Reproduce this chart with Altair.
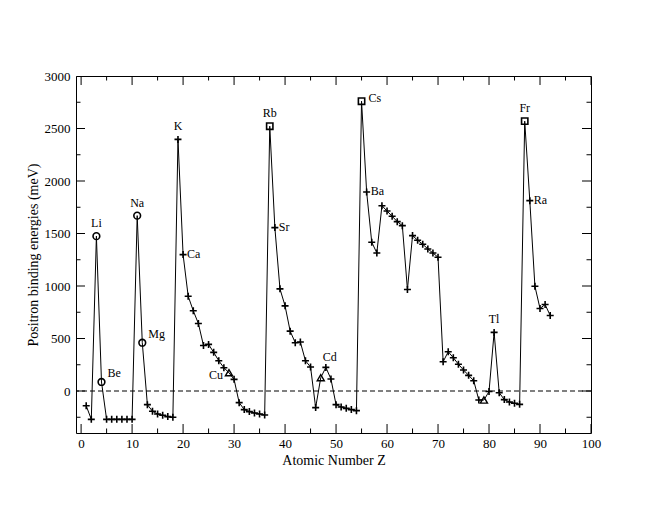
import altair as alt
import pandas as pd

# Atomic number Z and positron binding energies (meV)
Z = list(range(1, 93))
E = [-140, -270, 1475, 86, -270, -270, -270, -270, -270, -270,
     1670, 460, -130, -193, -219, -231, -244, -250, 2396, 1299,
     903, 764, 643, 434, 444, 368, 288, 222, 174, 111,
     -111, -177, -196, -209, -219, -228, 2522, 1556, 973, 811,
     570, 460, 466, 288, 228, -158, 127, 225, 114, -130,
     -152, -165, -177, -187, 2760, 1895, 1417, 1315, 1765, 1714,
     1664, 1613, 1575, 967, 1480, 1436, 1398, 1353, 1315, 1274,
     279, 374, 317, 255, 200, 149, 98, -86, -86, -5,
     558, -16, -82, -105, -117, -127, 2570, 1813, 998, 786,
     824, 719]

circle_Z = [3, 4, 11, 12]
square_Z = [37, 55, 87]
triangle_Z = [29, 47, 79]

above_names = ["Li", "Na", "K", "Rb", "Tl", "Fr"]
above_Z = [3, 11, 19, 37, 81, 87]
upright_names = ["Be", "Mg"]
upright_Z = [4, 12]
right_names = ["Ca", "Sr", "Ba", "Ra"]
right_Z = [20, 38, 56, 88]
cs_names = ["Cs"]
cs_Z = [55]
cd_names = ["Cd"]
cd_Z = [48]
left_names = ["Cu"]
left_Z = [29]

x_major = list(range(0, 101, 10))
x_minor = list(range(5, 100, 10))
y_major = list(range(0, 3001, 500))
y_minor = list(range(-250, 3000, 500))
zero_level = [0]

XMIN, XMAX = -1, 100
YMIN, YMAX = -400, 3000
FONT = "'Liberation Serif', 'Times New Roman', serif"


def kind(z):
    if z in circle_Z:
        return "circle"
    if z in square_Z:
        return "square"
    if z in triangle_Z:
        return "triangle"
    return "plus"


df = pd.DataFrame({"Z": Z, "E": E, "kind": [kind(z) for z in Z]})


def labels_df(names, zs):
    return pd.DataFrame({"Z": zs, "E": [E[z - 1] for z in zs], "name": names})


xscale = alt.Scale(domain=[XMIN, XMAX], nice=False, zero=False)
yscale = alt.Scale(domain=[YMIN, YMAX], nice=False, zero=False)

xaxis = alt.Axis(values=x_major, format="d", ticks=False, tickSize=0, domain=False, grid=False,
                 labelFont=FONT, labelFontSize=13, labelColor="black", labelPadding=4,
                 labelFlush=False, labelOverlap=False,
                 titleFont=FONT, titleFontSize=14, titleFontWeight="normal",
                 titleColor="black", titlePadding=3)
yaxis = alt.Axis(values=y_major, format="d", ticks=False, tickSize=0, domain=False, grid=False,
                 labelFont=FONT, labelFontSize=13, labelColor="black", labelPadding=6,
                 labelFlush=False, labelOverlap=False,
                 titleFont=FONT, titleFontSize=14, titleFontWeight="normal",
                 titleColor="black", titlePadding=4)

XT = "Atomic Number Z"
YT = "Positron binding energies (meV)"


def xenc(field="Z"):
    return alt.X(f"{field}:Q", scale=xscale, axis=xaxis, title=XT)


def yenc(field="E"):
    return alt.Y(f"{field}:Q", scale=yscale, axis=yaxis, title=YT)


base = alt.Chart(df)

zero_line = alt.Chart(pd.DataFrame({"E": zero_level})).mark_rule(
    color="black", strokeWidth=1, strokeDash=[5, 3]
).encode(y=yenc())

line = base.mark_line(color="black", strokeWidth=1).encode(
    x=xenc(), y=yenc(), order="Z:Q"
)

plus = base.transform_filter(alt.datum.kind == "plus").mark_point(
    shape="M-1,0L1,0M0,-1L0,1", filled=False, color="black", strokeWidth=1.6,
    size=49, opacity=1
).encode(x=xenc(), y=yenc())

circ = base.transform_filter(alt.datum.kind == "circle").mark_point(
    shape="circle", filled=False, color="black", strokeWidth=1.6, size=45, opacity=1
).encode(x=xenc(), y=yenc())

sq = base.transform_filter(alt.datum.kind == "square").mark_point(
    shape="square", filled=False, color="black", strokeWidth=1.6, size=40, opacity=1
).encode(x=xenc(), y=yenc())

tri = base.transform_filter(alt.datum.kind == "triangle").mark_point(
    shape="triangle-up", filled=False, color="black", strokeWidth=1.4, size=50, opacity=1
).encode(x=xenc(), y=yenc())


def text_layer(names, zs, align, dx, dy):
    return alt.Chart(labels_df(names, zs)).mark_text(
        align=align, baseline="middle", dx=dx, dy=dy, font=FONT, fontSize=12,
        color="black"
    ).encode(x=xenc(), y=yenc(), text="name:N")


t_above = text_layer(above_names, above_Z, "center", 0, -13)
t_upright = text_layer(upright_names, upright_Z, "left", 6, -9)
t_right = text_layer(right_names, right_Z, "left", 4, -1)
t_cs = text_layer(cs_names, cs_Z, "left", 7, -3)
t_cd = text_layer(cd_names, cd_Z, "center", 4, -10)
t_left = text_layer(left_names, left_Z, "right", -6, 2)


def hticks(vals, size, at):
    d = pd.DataFrame({"Z": vals})
    return alt.Chart(d).mark_tick(orient="vertical", size=size, thickness=1,
                                  color="black", clip=True, opacity=1).encode(
        x=xenc(), y=alt.datum(at)
    )


def vticks(vals, size, at):
    d = pd.DataFrame({"E": vals})
    return alt.Chart(d).mark_tick(orient="horizontal", size=size, thickness=1,
                                  color="black", clip=True, opacity=1).encode(
        y=yenc(), x=alt.datum(at)
    )


ticks = [
    hticks(x_major, 18, YMIN), hticks(x_minor, 9, YMIN),
    hticks(x_major, 18, YMAX), hticks(x_minor, 9, YMAX),
    vticks(y_major, 18, XMIN), vticks(y_minor, 9, XMIN),
    vticks(y_major, 18, XMAX), vticks(y_minor, 9, XMAX),
]

chart = alt.layer(
    zero_line, line, plus, circ, sq, tri,
    t_above, t_upright, t_right, t_cs, t_cd, t_left,
    *ticks
).properties(
    width=515, height=357,
    autosize=alt.AutoSizeParams(type="none"),
    padding={"left": 68, "top": 68, "right": 61, "bottom": 69},
    background="white",
).configure_view(stroke="black", strokeWidth=1)

chart.save("out.html", embed_options={"renderer": "svg", "actions": False})
